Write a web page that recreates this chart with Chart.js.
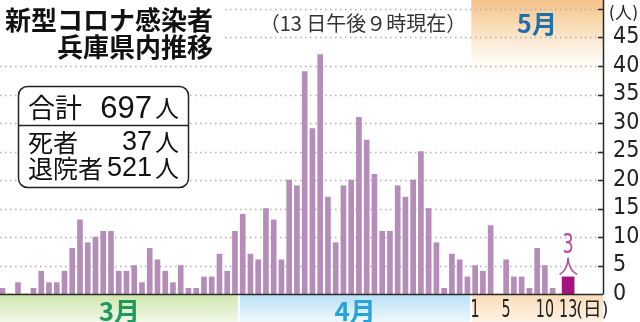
<!DOCTYPE html>
<html>
<head>
<meta charset="utf-8">
<script src="https://cdn.jsdelivr.net/npm/chart.js@4/dist/chart.umd.min.js"></script>
<style>
  html, body { margin: 0; padding: 0; background: #fff; }
</style>
</head>
<body>
<canvas id="covidChart" width="640" height="322"></canvas>
<script>
// daily new cases, Hyogo
const marchCases = [1, 0, 2, 0, 1, 4, 2, 2, 4, 8, 13, 9, 10, 11, 11, 4, 4, 5, 2, 8, 6, 4, 2, 5, 1, 1, 3, 3, 7, 4, 11];
const aprilCases = [14, 7, 6, 15, 13, 6, 20, 19, 39, 29, 42, 17, 9, 19, 20, 31, 27, 21, 11, 11, 19, 17, 20, 25, 15, 9, 1, 7, 6, 3];
const mayCases = [5, 4, 12, 0, 6, 3, 3, 1, 8, 5, 1, 0, 3];
const monthLabels = ["3月", "4月", "5月"];
const mayTickDays = [1, 5, 10, 13];
const yTickValues = [5, 10, 15, 20, 25, 30, 35, 40, 45, 50];
const summaryLabels = ["合計", "死者", "退院者"];
const summaryValues = ["697", "37", "521"];

const JP = '"Noto Sans CJK JP", sans-serif';
const NARROW = '"Liberation Sans Narrow", "DejaVu Sans Condensed", "Noto Sans CJK JP", sans-serif';

const dailyCases = [...marchCases, ...aprilCases, ...mayCases];
const lastIdx = dailyCases.length - 1;
const barData = dailyCases.slice(0, lastIdx).map((v, i) => ({ x: i, y: v }));
const todayData = [{ x: lastIdx, y: dailyCases[lastIdx] }];

// narrow text helper (squeezes the glyphs a bit, like the print font)
function narrowText(ctx, text, px, py, sx) {
    ctx.save();
    ctx.translate(px, py);
    ctx.scale(sx, 1);
    ctx.fillText(text, 0, 0);
    ctx.restore();
}

const decor = {
    id: "decor",
    beforeDatasetsDraw(chart) {
        const { ctx, chartArea, scales } = chart;
        const { left, right, bottom } = chartArea;
        const x = scales.x, y = scales.y;
        const b1 = x.getPixelForValue(marchCases.length - 0.5);
        const b2 = x.getPixelForValue(marchCases.length + aprilCases.length - 0.5);

        ctx.save();
        // orange band on top of May
        let g = ctx.createLinearGradient(0, 0, 0, 85);
        g.addColorStop(0, "rgba(245,194,136,1)");
        g.addColorStop(0.4, "rgba(250,222,186,0.85)");
        g.addColorStop(1, "rgba(255,255,255,0)");
        ctx.fillStyle = g;
        ctx.fillRect(b2, 0, right - b2, 85);

        // dotted grid
        ctx.strokeStyle = "#b0b0b0";
        ctx.lineWidth = 1.3;
        ctx.setLineDash([1.5, 3.5]);
        yTickValues.forEach(v => {
            const py = Math.round(y.getPixelForValue(v)) + 0.5;
            ctx.beginPath();
            ctx.moveTo(left, py);
            ctx.lineTo(right, py);
            ctx.stroke();
        });
        ctx.setLineDash([]);

        // month bands under the axis
        const bands = [
            [0, b1 - 1, "#cfe7ad", "#f1f8e6"],
            [b1 + 1, b2 - 1, "#b9e0f6", "#eef8fd"],
            [b2 + 1, right, "#fadcb8", "#fdf2e4"]
        ];
        bands.forEach(([x0, x1, c0, c1]) => {
            const bg = ctx.createLinearGradient(0, bottom, 0, 322);
            bg.addColorStop(0, c0);
            bg.addColorStop(1, c1);
            ctx.fillStyle = bg;
            ctx.fillRect(x0, bottom + 1, x1 - x0, 322 - bottom);
        });
        ctx.restore();
    },
    afterDraw(chart) {
        const { ctx, chartArea, scales } = chart;
        const { left, right, bottom } = chartArea;
        const x = scales.x, y = scales.y;
        const b1 = x.getPixelForValue(marchCases.length - 0.5);
        const b2 = x.getPixelForValue(marchCases.length + aprilCases.length - 0.5);

        ctx.save();
        // axes
        ctx.strokeStyle = "#2a2a2a";
        ctx.lineWidth = 1.5;
        ctx.beginPath();
        ctx.moveTo(left, bottom + 0.5);
        ctx.lineTo(right, bottom + 0.5);
        ctx.moveTo(right + 0.5, 0);
        ctx.lineTo(right + 0.5, bottom + 0.5);
        yTickValues.forEach(v => {
            const py = Math.round(y.getPixelForValue(v)) + 0.5;
            ctx.moveTo(right - 5, py);
            ctx.lineTo(right + 1, py);
        });
        ctx.stroke();

        ctx.textBaseline = "middle";
        ctx.fillStyle = "#222";
        ctx.font = "17px " + NARROW;
        ctx.textAlign = "right";
        ctx.fillText("(人)", 638, 15);

        // title
        ctx.fillStyle = "#fff";
        ctx.fillRect(0, 0, 222, 62);
        ctx.fillStyle = "#111";
        ctx.font = "bold 26px " + JP;
        ctx.textAlign = "left";
        ctx.fillText("新型コロナ感染者", 5, 20);
        ctx.textAlign = "right";
        ctx.fillText("兵庫県内推移", 213, 47);

        ctx.fillStyle = "#333";
        ctx.font = "20px " + JP;
        ctx.textAlign = "center";
        ctx.fillText("（13 日午後９時現在）", 363, 23);

        // month names
        ctx.font = "bold 25px " + JP;
        ctx.fillStyle = "#1f6fae";
        ctx.fillText(monthLabels[2], 537, 23);
        ctx.font = "bold 26px " + JP;
        ctx.fillStyle = "#1e9a5e";
        ctx.fillText(monthLabels[0], b1 / 2, 311);
        ctx.fillStyle = "#27a3d9";
        ctx.fillText(monthLabels[1], (b1 + b2) / 2, 311);

        // May day labels
        ctx.fillStyle = "#222";
        const mayStart = marchCases.length + aprilCases.length - 1;
        mayTickDays.forEach(d => {
            const px = x.getPixelForValue(mayStart + d);
            ctx.textAlign = "center";
            ctx.font = "24px " + NARROW;
            narrowText(ctx, String(d), px, 311, 0.66);
            if (d === mayTickDays[mayTickDays.length - 1]) {
                ctx.textAlign = "left";
                ctx.font = "19px " + NARROW;
                ctx.fillText("(日)", px + 8, 311);
            }
        });

        // today label
        const tx = x.getPixelForValue(lastIdx);
        const ty = y.getPixelForValue(dailyCases[lastIdx]);
        ctx.fillStyle = "#b0509c";
        ctx.textAlign = "center";
        ctx.font = "26px " + NARROW;
        narrowText(ctx, String(dailyCases[lastIdx]), tx, ty - 31, 0.75);
        ctx.font = "20px " + JP;
        ctx.fillText("人", tx, ty - 10);

        // summary box
        ctx.fillStyle = "#fff";
        ctx.strokeStyle = "#222";
        ctx.lineWidth = 1.5;
        ctx.beginPath();
        ctx.roundRect(18.5, 86.5, 170, 101, 9);
        ctx.fill();
        ctx.stroke();
        ctx.beginPath();
        ctx.moveTo(18.5, 125.5);
        ctx.lineTo(188.5, 125.5);
        ctx.stroke();

        const rowY = [108, 142, 168];
        const labelSize = [27, 25, 25];
        const numSize = [31, 27, 27];
        ctx.fillStyle = "#111";
        summaryLabels.forEach((lab, i) => {
            ctx.textAlign = "left";
            ctx.font = labelSize[i] + "px " + JP;
            ctx.fillText(lab, 28, rowY[i]);
            ctx.textAlign = "right";
            ctx.font = numSize[i] + 'px "Liberation Sans", sans-serif';
            ctx.fillText(summaryValues[i], 152, rowY[i] + 1);
            ctx.font = "24px " + JP;
            ctx.fillText("人", 179, rowY[i]);
        });
        ctx.restore();
    }
};

new Chart(document.getElementById("covidChart"), {
    type: "bar",
    data: {
        datasets: [
            {
                data: barData,
                backgroundColor: "#b48db8",
                barThickness: 5,
                grouped: false
            },
            {
                data: todayData,
                backgroundColor: "#a3147f",
                barThickness: 12,
                grouped: false
            }
        ]
    },
    options: {
        responsive: false,
        animation: false,
        events: [],
        layout: { padding: { top: 9, bottom: 28, left: 0, right: 0 } },
        plugins: { legend: { display: false }, tooltip: { enabled: false } },
        scales: {
            x: {
                type: "linear",
                display: false,
                offset: false,
                min: -0.323,
                max: 77.5
            },
            y: {
                position: "right",
                min: 0,
                max: 50,
                grid: { display: false },
                border: { display: false },
                ticks: {
                    stepSize: 5,
                    autoSkip: false,
                    padding: 2,
                    color: "#222",
                    font: { family: NARROW, size: 23, lineHeight: 1 },
                    callback: v => (v === 50 ? "" : v)
                },
                afterFit(scale) {
                    scale.width = 37;
                    scale.paddingTop = 0;
                    scale.paddingBottom = 0;
                }
            }
        }
    },
    plugins: [decor]
});
</script>
</body>
</html>
